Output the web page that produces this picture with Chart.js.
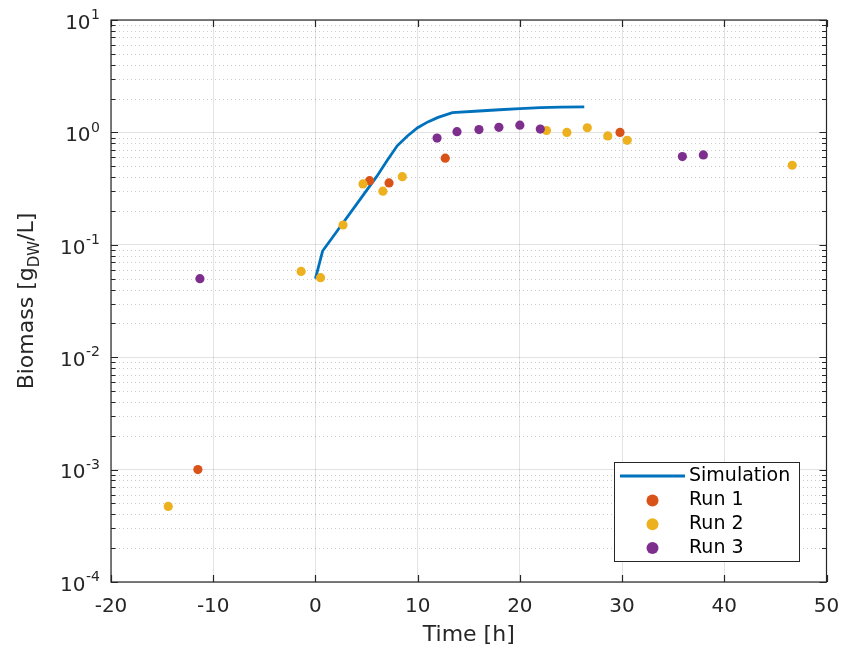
<!DOCTYPE html>
<html>
<head>
<meta charset="utf-8">
<script src="https://cdn.jsdelivr.net/npm/chart.js@4.4.1/dist/chart.umd.min.js"></script>
<style>
  body { margin: 0; background: #fff; }
  canvas { display: block; }
</style>
</head>
<body>
<canvas id="biomassChart" width="842" height="651"></canvas>
<script>
// simulated biomass curve
const simTime = [0, 0.7, 2, 4, 6, 7, 8, 9, 10, 11, 12, 13.4, 16, 18, 20, 22, 24, 26.3];
const simBiomass = [0.05, 0.088, 0.128, 0.228, 0.406, 0.56, 0.76, 0.93, 1.10, 1.24, 1.36, 1.50, 1.55, 1.59, 1.63, 1.66, 1.68, 1.69];

// measured runs
const run1Time = [-11.5, 5.3, 7.2, 12.7, 29.8];
const run1Biomass = [0.001, 0.372, 0.355, 0.59, 1.0];
const run2Time = [-14.4, -1.4, 0.5, 2.7, 4.65, 6.6, 8.5, 22.6, 24.6, 26.6, 28.6, 30.5, 46.65];
const run2Biomass = [0.00047, 0.058, 0.051, 0.15, 0.348, 0.30, 0.404, 1.04, 1.0, 1.10, 0.93, 0.85, 0.51];
const run3Time = [-11.3, 11.9, 13.85, 16.0, 17.95, 20.0, 22.0, 35.9, 37.95];
const run3Biomass = [0.05, 0.89, 1.015, 1.06, 1.11, 1.16, 1.07, 0.61, 0.63];

// axes
const xTicks = [-20, -10, 0, 10, 20, 30, 40, 50];
const yExponents = [-4, -3, -2, -1, 0, 1];

const FONT = "'DejaVu Sans', sans-serif";
const AXIS_COLOR = '#262626';
const toPoints = (xs, ys) => xs.map((x, i) => ({ x: x, y: ys[i] }));

const matlabAxes = {
  id: 'matlabAxes',
  beforeDatasetsDraw(chart) {
    const { ctx, chartArea: a, scales: { y } } = chart;
    ctx.save();
    ctx.strokeStyle = 'rgba(38,38,38,0.24)';
    ctx.lineWidth = 1;
    ctx.setLineDash([1, 3]);
    for (let k = yExponents[0]; k < yExponents[yExponents.length - 1]; k++) {
      for (let m = 2; m <= 9; m++) {
        const py = Math.round(y.getPixelForValue(m * 10 ** k)) + 0.5;
        ctx.beginPath();
        ctx.moveTo(a.left, py);
        ctx.lineTo(a.right, py);
        ctx.stroke();
      }
    }
    ctx.restore();
  },
  afterDraw(chart) {
    const { ctx, chartArea: a, scales: { x, y } } = chart;
    ctx.save();
    ctx.strokeStyle = AXIS_COLOR;
    ctx.lineWidth = 1.2;

    // inward tick marks on all four sides
    ctx.beginPath();
    xTicks.forEach(v => {
      const px = Math.round(x.getPixelForValue(v)) + 0.5;
      ctx.moveTo(px, a.bottom); ctx.lineTo(px, a.bottom - 7);
      ctx.moveTo(px, a.top); ctx.lineTo(px, a.top + 7);
    });
    yExponents.forEach((k, idx) => {
      const py = Math.round(y.getPixelForValue(10 ** k)) + 0.5;
      ctx.moveTo(a.left, py); ctx.lineTo(a.left + 7, py);
      ctx.moveTo(a.right, py); ctx.lineTo(a.right - 7, py);
      if (idx === yExponents.length - 1) return;
      for (let m = 2; m <= 9; m++) {
        const pm = Math.round(y.getPixelForValue(m * 10 ** k)) + 0.5;
        ctx.moveTo(a.left, pm); ctx.lineTo(a.left + 4.5, pm);
        ctx.moveTo(a.right, pm); ctx.lineTo(a.right - 4.5, pm);
      }
    });
    ctx.stroke();
    ctx.strokeRect(a.left, a.top, a.right - a.left, a.bottom - a.top);

    // y tick labels as powers of ten
    ctx.fillStyle = AXIS_COLOR;
    ctx.textBaseline = 'middle';
    ctx.textAlign = 'right';
    yExponents.forEach(k => {
      const py = y.getPixelForValue(10 ** k);
      const exp = String(k);
      ctx.font = '14px ' + FONT;
      const ew = ctx.measureText(exp).width;
      const right = a.left - 11;
      ctx.fillText(exp, right, py - 4.5);
      ctx.font = '20px ' + FONT;
      ctx.fillText('10', right - ew - 0.5, py + 3.5);
    });

    // y axis title with subscript
    const parts = [
      { t: 'Biomass [g', size: 22, dy: 0 },
      { t: 'DW', size: 15, dy: 6 },
      { t: '/L]', size: 22, dy: 0 }
    ];
    let total = 0;
    parts.forEach(p => { ctx.font = p.size + 'px ' + FONT; p.w = ctx.measureText(p.t).width; total += p.w; });
    ctx.translate(33, (a.top + a.bottom) / 2);
    ctx.rotate(-Math.PI / 2);
    ctx.textAlign = 'left';
    ctx.textBaseline = 'alphabetic';
    let cx = -total / 2;
    parts.forEach(p => {
      ctx.font = p.size + 'px ' + FONT;
      ctx.fillText(p.t, cx, p.dy);
      cx += p.w;
    });
    ctx.setTransform(1, 0, 0, 1, 0, 0);

    // legend box
    const lx = 614.5, ly = 462.5, lw = 185, lh = 99;
    ctx.fillStyle = '#fff';
    ctx.fillRect(lx, ly, lw, lh);
    ctx.lineWidth = 1;
    ctx.strokeRect(lx, ly, lw, lh);
    const rows = [476, 500.5, 524.3, 548];
    ctx.font = '19px ' + FONT;
    ctx.textBaseline = 'middle';
    chart.data.datasets.forEach((ds, i) => {
      const ry = rows[i];
      if (ds.showLine) {
        ctx.strokeStyle = ds.borderColor;
        ctx.lineWidth = ds.borderWidth;
        ctx.beginPath();
        ctx.moveTo(620, ry); ctx.lineTo(685, ry);
        ctx.stroke();
      } else {
        ctx.fillStyle = ds.backgroundColor;
        ctx.beginPath();
        ctx.arc(652.5, ry, 6, 0, Math.PI * 2);
        ctx.fill();
      }
      ctx.fillStyle = '#000';
      ctx.fillText(ds.label, 689, ry);
    });
    ctx.restore();
  }
};

new Chart(document.getElementById('biomassChart'), {
  type: 'scatter',
  data: {
    datasets: [
      {
        label: 'Simulation',
        data: toPoints(simTime, simBiomass),
        showLine: true,
        borderColor: '#0072BD',
        backgroundColor: '#0072BD',
        borderWidth: 2.8,
        pointRadius: 0,
        tension: 0,
        order: 3
      },
      { label: 'Run 1', data: toPoints(run1Time, run1Biomass), backgroundColor: '#D95319', borderWidth: 0, pointRadius: 4.6, order: 2 },
      { label: 'Run 2', data: toPoints(run2Time, run2Biomass), backgroundColor: '#EDB120', borderWidth: 0, pointRadius: 4.6, order: 1 },
      { label: 'Run 3', data: toPoints(run3Time, run3Biomass), backgroundColor: '#7E2F8E', borderWidth: 0, pointRadius: 4.6, order: 0 }
    ]
  },
  options: {
    responsive: false,
    animation: false,
    devicePixelRatio: 1,
    layout: { padding: { top: 20, right: 15.5, left: 0, bottom: 0 } },
    plugins: { legend: { display: false }, tooltip: { enabled: false } },
    scales: {
      x: {
        type: 'linear',
        min: -20,
        max: 50,
        afterBuildTicks: s => { s.ticks = xTicks.map(v => ({ value: v })); },
        afterFit: s => { s.height = 69; s.paddingLeft = 0; s.paddingRight = 0; },
        ticks: { font: { family: FONT, size: 20 }, color: AXIS_COLOR, padding: 13 },
        grid: { color: 'rgba(38,38,38,0.13)', drawTicks: false },
        border: { display: false },
        title: { display: true, text: 'Time [h]', font: { family: FONT, size: 22 }, color: AXIS_COLOR, padding: { top: 2, bottom: 3 } }
      },
      y: {
        type: 'logarithmic',
        min: 1e-4,
        max: 10,
        afterBuildTicks: s => { s.ticks = yExponents.map(k => ({ value: 10 ** k })); },
        afterFit: s => { s.width = 111; s.paddingTop = 0; s.paddingBottom = 0; },
        ticks: { display: false },
        grid: { color: 'rgba(38,38,38,0.13)', drawTicks: false },
        border: { display: false }
      }
    }
  },
  plugins: [matlabAxes]
});
</script>
</body>
</html>
